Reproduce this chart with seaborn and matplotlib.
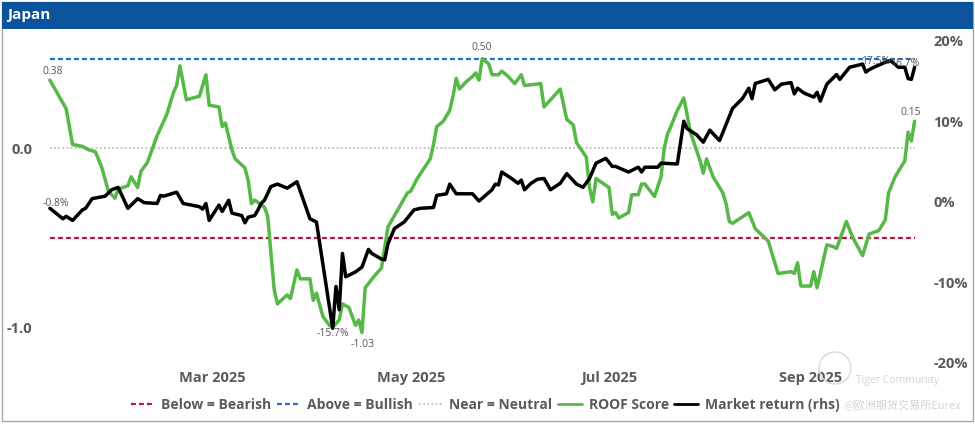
import pandas as pd
import seaborn as sns
import matplotlib.pyplot as plt
import matplotlib.dates as mdates
from matplotlib.patches import Rectangle, Circle
from matplotlib.lines import Line2D

# ROOF score (lhs)
roof_dates = [
    "2025-01-10", "2025-01-15", "2025-01-17", "2025-01-20", "2025-01-22", "2025-01-24", "2025-01-26",
    "2025-01-28", "2025-01-30", "2025-01-31", "2025-02-03", "2025-02-04", "2025-02-06", "2025-02-07",
    "2025-02-09", "2025-02-11", "2025-02-12", "2025-02-15", "2025-02-17", "2025-02-18", "2025-02-19",
    "2025-02-21", "2025-02-25", "2025-02-27", "2025-02-28", "2025-03-03", "2025-03-04", "2025-03-05",
    "2025-03-07", "2025-03-08", "2025-03-11", "2025-03-12", "2025-03-13", "2025-03-14", "2025-03-17",
    "2025-03-18", "2025-03-20", "2025-03-21", "2025-03-24", "2025-03-25", "2025-03-27", "2025-03-28",
    "2025-03-31", "2025-04-01", "2025-04-02", "2025-04-04", "2025-04-06", "2025-04-07", "2025-04-09",
    "2025-04-10", "2025-04-12", "2025-04-14", "2025-04-15", "2025-04-16", "2025-04-17", "2025-04-20",
    "2025-04-22", "2025-04-24", "2025-04-30", "2025-05-01", "2025-05-03", "2025-05-07", "2025-05-08",
    "2025-05-09", "2025-05-11", "2025-05-13", "2025-05-14", "2025-05-15", "2025-05-16", "2025-05-18",
    "2025-05-20", "2025-05-21", "2025-05-22", "2025-05-23", "2025-05-25", "2025-05-26", "2025-05-28",
    "2025-05-29", "2025-05-31", "2025-06-02", "2025-06-04", "2025-06-05", "2025-06-10", "2025-06-11",
    "2025-06-16", "2025-06-18", "2025-06-20", "2025-06-21", "2025-06-24", "2025-06-25", "2025-06-26",
    "2025-06-27", "2025-07-01", "2025-07-02", "2025-07-03", "2025-07-04", "2025-07-07", "2025-07-08",
    "2025-07-10", "2025-07-11", "2025-07-12", "2025-07-15", "2025-07-17", "2025-07-18", "2025-07-19",
    "2025-07-20", "2025-07-22", "2025-07-24", "2025-07-25", "2025-07-26", "2025-07-29", "2025-07-30",
    "2025-07-31", "2025-08-02", "2025-08-05", "2025-08-06", "2025-08-07", "2025-08-08", "2025-08-13",
    "2025-08-15", "2025-08-19", "2025-08-22", "2025-08-26", "2025-08-27", "2025-08-28", "2025-08-29",
    "2025-09-01", "2025-09-02", "2025-09-03", "2025-09-06", "2025-09-08", "2025-09-09", "2025-09-12",
    "2025-09-14", "2025-09-17", "2025-09-19", "2025-09-22", "2025-09-24", "2025-09-25", "2025-09-27",
    "2025-09-30", "2025-10-01", "2025-10-02", "2025-10-03",
]
roof_score = [
    0.38, 0.22, 0.02, 0.01, -0.01, -0.02, -0.11,
    -0.24, -0.28, -0.23, -0.21, -0.16, -0.22, -0.13,
    -0.08, 0.02, 0.07, 0.19, 0.31, 0.35, 0.46,
    0.27, 0.29, 0.41, 0.24, 0.23, 0.12, 0.14,
    -0.01, -0.06, -0.11, -0.18, -0.31, -0.29, -0.33,
    -0.38, -0.79, -0.87, -0.82, -0.84, -0.68, -0.73,
    -0.73, -0.85, -0.81, -0.94, -0.99, -1.00, -0.96,
    -0.87, -0.89, -0.99, -0.96, -1.03, -0.78, -0.71,
    -0.67, -0.44, -0.25, -0.24, -0.17, -0.06, 0.02,
    0.12, 0.15, 0.21, 0.29, 0.39, 0.33, 0.37,
    0.40, 0.42, 0.38, 0.50, 0.47, 0.41, 0.41,
    0.43, 0.40, 0.36, 0.41, 0.35, 0.36, 0.23,
    0.33, 0.16, 0.13, 0.03, -0.05, -0.22, -0.30,
    -0.17, -0.22, -0.37, -0.36, -0.39, -0.36, -0.26,
    -0.26, -0.20, -0.20, -0.27, -0.16, 0.00, 0.08,
    0.12, 0.21, 0.28, 0.19, 0.09, -0.07, -0.14,
    -0.06, -0.16, -0.25, -0.31, -0.41, -0.42, -0.36,
    -0.45, -0.52, -0.70, -0.69, -0.70, -0.64, -0.77,
    -0.77, -0.69, -0.78, -0.54, -0.55, -0.56, -0.41,
    -0.50, -0.60, -0.48, -0.46, -0.40, -0.25, -0.16,
    -0.07, 0.09, 0.04, 0.15,
]

# market return in % (rhs)
market_dates = [
    "2025-01-10", "2025-01-14", "2025-01-15", "2025-01-17", "2025-01-20", "2025-01-21", "2025-01-23",
    "2025-01-27", "2025-01-29", "2025-01-31", "2025-02-03", "2025-02-06", "2025-02-08", "2025-02-12",
    "2025-02-13", "2025-02-14", "2025-02-18", "2025-02-20", "2025-02-25", "2025-02-26", "2025-02-27",
    "2025-02-28", "2025-03-03", "2025-03-04", "2025-03-06", "2025-03-07", "2025-03-10", "2025-03-11",
    "2025-03-12", "2025-03-14", "2025-03-15", "2025-03-16", "2025-03-17", "2025-03-19", "2025-03-21",
    "2025-03-24", "2025-03-27", "2025-03-31", "2025-04-02", "2025-04-07", "2025-04-08", "2025-04-09",
    "2025-04-10", "2025-04-11", "2025-04-14", "2025-04-16", "2025-04-18", "2025-04-19", "2025-04-22",
    "2025-04-23", "2025-04-24", "2025-04-26", "2025-04-29", "2025-05-02", "2025-05-04", "2025-05-08",
    "2025-05-09", "2025-05-12", "2025-05-13", "2025-05-15", "2025-05-20", "2025-05-22", "2025-05-24",
    "2025-05-26", "2025-05-27", "2025-05-28", "2025-05-29", "2025-06-01", "2025-06-03", "2025-06-04",
    "2025-06-05", "2025-06-07", "2025-06-09", "2025-06-11", "2025-06-13", "2025-06-16", "2025-06-18",
    "2025-06-21", "2025-06-23", "2025-06-25", "2025-06-27", "2025-06-30", "2025-07-02", "2025-07-03",
    "2025-07-07", "2025-07-10", "2025-07-11", "2025-07-12", "2025-07-16", "2025-07-17", "2025-07-22",
    "2025-07-24", "2025-07-25", "2025-07-28", "2025-07-30", "2025-08-01", "2025-08-04", "2025-08-08",
    "2025-08-11", "2025-08-13", "2025-08-14", "2025-08-15", "2025-08-19", "2025-08-21", "2025-08-23",
    "2025-08-26", "2025-08-27", "2025-08-28", "2025-08-30", "2025-09-02", "2025-09-03", "2025-09-04",
    "2025-09-06", "2025-09-09", "2025-09-10", "2025-09-13", "2025-09-17", "2025-09-18", "2025-09-19",
    "2025-09-21", "2025-09-25", "2025-09-26", "2025-09-28", "2025-09-30", "2025-10-01", "2025-10-02",
    "2025-10-03",
]
market_return = [
    -0.8, -2.1, -1.8, -2.3, -1.0, -0.8, 0.4,
    0.7, 1.5, 1.8, -0.8, 0.4, -0.1, -0.2,
    0.8, 0.7, 1.2, -0.2, -0.6, -0.9, -0.2,
    -2.3, -0.4, -1.2, 0.2, -1.4, -1.7, -2.6,
    -1.9, -1.7, -1.0, -0.2, 0.2, 1.9, 2.2,
    1.7, 2.5, -2.1, -2.5, -15.7, -10.5, -13.4,
    -6.4, -9.3, -8.7, -8.1, -5.9, -6.4, -7.1,
    -7.2, -5.2, -3.3, -2.5, -1.0, -0.8, -0.7,
    0.8, 1.0, 2.2, 1.0, 1.0, 0.1, 0.8,
    1.5, 2.2, 2.1, 3.7, 2.9, 2.3, 2.7,
    1.5, 2.3, 2.8, 2.9, 1.5, 2.3, 3.5,
    2.2, 1.8, 2.9, 4.8, 5.4, 4.4, 4.4,
    3.7, 4.3, 3.7, 4.3, 4.3, 4.8, 4.7,
    10.0, 9.1, 8.3, 7.4, 8.9, 7.6, 11.6,
    12.8, 14.1, 12.8, 14.7, 15.2, 13.9, 14.6,
    14.8, 13.4, 14.1, 13.5, 13.0, 13.6, 12.5,
    14.6, 15.8, 15.2, 16.7, 17.1, 16.1, 16.4,
    16.8, 17.5, 17.4, 16.7, 16.7, 15.3, 15.2,
    16.7,
]

bearish_level = -0.5
bullish_level = 0.5
neutral_level = 0.0

legend_labels = ["Below = Bearish", "Above = Bullish", "Near = Neutral", "ROOF Score", "Market return (rhs)"]

GREEN = "#55B847"
RED = "#B3163A"
BLUE = "#1F72C4"
GREY_DOT = "#BFBFBF"
TEXT = "#595959"

sns.set_theme(style="white")
plt.rcParams["font.family"] = ["Open Sans", "DejaVu Sans"]

roof = pd.DataFrame({"date": pd.to_datetime(roof_dates), "score": roof_score})
market = pd.DataFrame({"date": pd.to_datetime(market_dates), "ret": market_return})
start, end = roof["date"].min(), roof["date"].max()

fig = plt.figure(figsize=(9.75, 4.24), dpi=100)

# frame + title bar
fig.patches.append(Rectangle((2 / 975, 3 / 424), 971 / 975, 419 / 424, transform=fig.transFigure,
                             fill=False, edgecolor="#A6A6A6", lw=1.0))
fig.patches.append(Rectangle((2 / 975, 1 - 29 / 424), 971 / 975, 27 / 424, transform=fig.transFigure,
                             facecolor="#0B539B", edgecolor="none"))
fig.text(7 / 975, 1 - 15.5 / 424, "Japan", color="white", fontsize=11, fontweight="bold", va="center")

ax = fig.add_axes([45 / 975, 1 - 363 / 424, 880 / 975, 322.3 / 424])
ax2 = ax.twinx()

ax.hlines(bearish_level, start, end, color=RED, lw=1.6, linestyle=(0, (2.2, 1.4)))
ax.hlines(bullish_level, start, end, color=BLUE, lw=1.6, linestyle=(0, (2.2, 1.4)))
ax.hlines(neutral_level, start, end, color=GREY_DOT, lw=1.3, linestyle=(0, (1, 1.3)))

sns.lineplot(data=roof, x="date", y="score", ax=ax, color=GREEN, lw=2.5)
sns.lineplot(data=market, x="date", y="ret", ax=ax2, color="black", lw=2.5)

ax.set_ylim(-1.2, 0.6)
ax2.set_ylim(-20, 20)
ax.set_xlim(start - pd.Timedelta(days=1.5), start + pd.Timedelta(days=269.2))

ax.set_yticks([-1.0, 0.0])
ax.set_yticklabels(["-1.0", "0.0"])
ax2.set_yticks([-20, -10, 0, 10, 20])
ax2.set_yticklabels([f"{v}%" for v in [-20, -10, 0, 10, 20]])
ax.xaxis.set_major_locator(mdates.MonthLocator(bymonth=[3, 5, 7, 9]))
ax.xaxis.set_major_formatter(mdates.DateFormatter("%b %Y"))

for a in (ax, ax2):
    a.set_xlabel("")
    a.set_ylabel("")
    a.grid(False)
    for s in a.spines.values():
        s.set_visible(False)
    for lab in a.get_xticklabels() + a.get_yticklabels():
        lab.set_fontweight("bold")
ax.tick_params(axis="y", length=0, pad=9, labelsize=10.5, labelcolor=TEXT)
ax2.tick_params(axis="y", length=0, pad=6, labelsize=10.5, labelcolor=TEXT)
ax.tick_params(axis="x", length=0, pad=6, labelsize=10.5, labelcolor=TEXT)
ax.patch.set_visible(False)
ax2.patch.set_visible(False)

# data labels
def label(a, date, val, text, dx, dy):
    a.annotate(text, xy=(pd.Timestamp(date), val), xytext=(dx, dy), textcoords="offset pixels",
               ha="center", va="center", fontsize=7.5, color=TEXT)

label(ax, roof_dates[0], roof_score[0], "0.38", 3, 9)
label(ax, "2025-05-23", 0.50, "0.50", 0, 11)
label(ax, "2025-04-16", -1.03, "-1.03", 1, -12)
label(ax, roof_dates[-1], roof_score[-1], "0.15", -4, 9)
label(ax2, market_dates[0], market_return[0], "-0.8%", 6, 5)
label(ax2, "2025-04-07", -15.7, "-15.7%", 0, -5)
label(ax2, "2025-09-25", 17.5, "17.5%", -13, -1)
label(ax2, market_dates[-1], market_return[-1], "16.7%", -10, 4)

handles = [
    Line2D([], [], color=RED, lw=1.6, linestyle=(0, (2.2, 1.4))),
    Line2D([], [], color=BLUE, lw=1.6, linestyle=(0, (2.2, 1.4))),
    Line2D([], [], color=GREY_DOT, lw=1.3, linestyle=(0, (1, 1.3))),
    Line2D([], [], color=GREEN, lw=2.0),
    Line2D([], [], color="black", lw=2.0),
]
fig.legend(handles, legend_labels, loc="center", bbox_to_anchor=(485 / 975, 1 - 405 / 424), ncol=5,
           frameon=False, prop={"weight": "bold", "size": 10}, labelcolor=TEXT,
           handlelength=1.75, handletextpad=0.45, columnspacing=0.4)

# faint watermark, kept clear of the chart texts
fig.patches.append(Circle((8.35, 4.24 - 3.68), 0.16, transform=fig.dpi_scale_trans,
                          fill=False, edgecolor="#D8D8D8", lw=1.0))
fig.text(856 / 975, 1 - 380 / 424, "Tiger Community", color="#C8C8C8", fontsize=7.5, va="center", alpha=0.8)
fig.text(843 / 975, 1 - 405 / 424, "@欧洲期货交易所Eurex", color="#C8C8C8", fontsize=8, va="center",
         alpha=0.8, family=["Noto Sans CJK SC", "DejaVu Sans"])

plt.savefig("out.png", dpi=100)
plt.close()
